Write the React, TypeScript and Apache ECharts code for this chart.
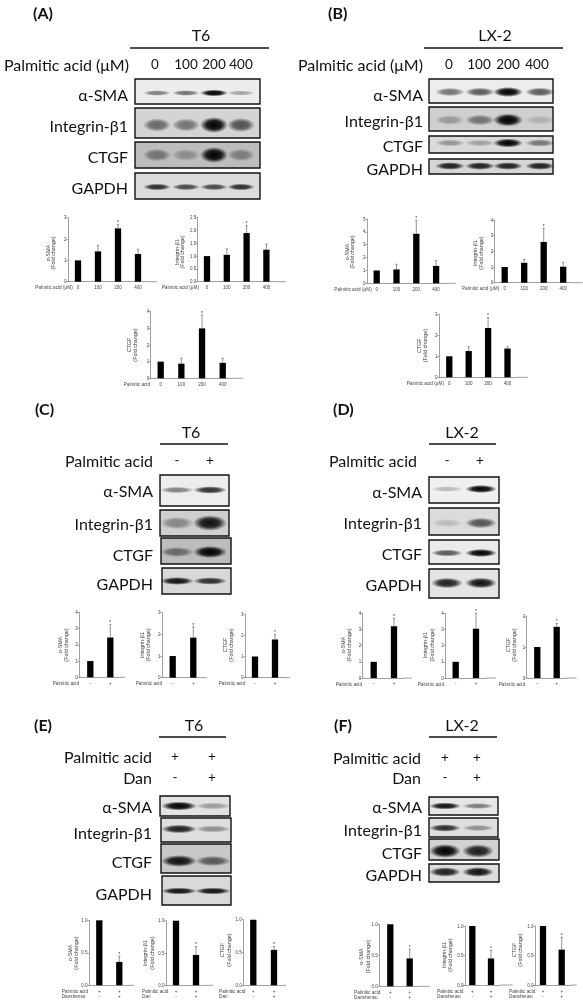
import React, { useEffect, useRef } from "react";
import * as echarts from "echarts";

// ---------- values ----------
const DOSE = ["0", "100", "200", "400"];
const PA = ["-", "+"];
const PA_DAN = ["+\n-", "+\n+"];

const A1_V = [1, 1.42, 2.5, 1.3];
const A1_E = [1, 1.69, 2.69, 1.52];
const A2_V = [1, 1.05, 1.9, 1.25];
const A2_E = [1, 1.28, 2.19, 1.47];
const A3_V = [1, 0.88, 3, 0.93];
const A3_E = [1, 1.2, 3.8, 1.2];
const B1_V = [1, 1.08, 3.85, 1.35];
const B1_E = [1, 1.48, 4.9, 1.76];
const B2_V = [1, 1.27, 2.6, 1.02];
const B2_E = [1, 1.49, 3.47, 1.3];
const B3_V = [1, 1.25, 2.35, 1.37];
const B3_E = [1, 1.46, 2.84, 1.46];
const C1_V = [1, 2.45];
const C1_E = [1, 3.26];
const C2_V = [1, 1.85];
const C2_E = [1, 2.35];
const C3_V = [1, 1.8];
const C3_E = [1, 2.04];
const D1_V = [1, 3.2];
const D1_E = [1, 3.69];
const D2_V = [1, 3.05];
const D2_E = [1, 4.0];
const D3_V = [1, 1.65];
const D3_E = [1, 1.76];
const E1_V = [1, 0.36];
const E1_E = [1, 0.45];
const E2_V = [1, 0.47];
const E2_E = [1, 0.6];
const E3_V = [1, 0.54];
const E3_E = [1, 0.59];
const F1_V = [1, 0.45];
const F1_E = [1, 0.6];
const F2_V = [1, 0.45];
const F2_E = [1, 0.59];
const F3_V = [1, 0.6];
const F3_E = [1, 0.81];

const STAR_DOSE = ["", "", "*", ""];
const STAR_TWO = ["", "*"];

// blot band darkness, per protein row and lane
const A_BLOT = [[0.55, 0.6, 1, 0.4], [0.6, 0.55, 1, 0.7], [0.5, 0.35, 1, 0.45], [0.85, 0.75, 0.75, 0.85]];
const B_BLOT = [[0.6, 0.7, 1, 0.7], [0.35, 0.55, 1, 0.2], [0.4, 0.35, 1, 0.55], [0.9, 0.9, 0.9, 0.9]];
const C_BLOT = [[0.55, 0.85], [0.45, 0.95], [0.55, 1], [0.95, 0.85]];
const D_BLOT = [[0.3, 1], [0.2, 0.7], [0.7, 1], [0.9, 0.95]];
const E_BLOT = [[1, 0.4], [0.9, 0.45], [0.95, 0.65], [0.95, 0.95]];
const F_BLOT = [[0.95, 0.55], [0.85, 0.45], [1, 0.9], [0.9, 0.95]];

const PROTEINS = ["α-SMA", "Integrin-β1", "CTGF", "GAPDH"];
const FC = "(Fold change)";

// ---------- layout of the charts ----------
type G = any;
const GRIDS: G[] = [
  { v: A1_V, e: A1_E, s: STAR_DOSE, c: DOSE, xn: "Palmitic acid (μM)", yn: "α-SMA", max: 3, step: 1, dec: 0, ax: 68, top: 217.7, bot: 281.7, x1: 78, sp: 20, xe: 157, lr: 72.7, tx: 53, lh: 5.5, ty: 253 },
  { v: A2_V, e: A2_E, s: STAR_DOSE, c: DOSE, xn: "Palmitic acid (μM)", yn: "Integrin-β1", max: 2.5, step: 0.5, dec: 1, ax: 197.7, top: 217.7, bot: 281.7, x1: 207, sp: 19.8, xe: 286, lr: 199, tx: 182, lh: 5.5, ty: 252 },
  { v: A3_V, e: A3_E, s: STAR_DOSE, c: DOSE, xn: "Palmitic acid", yn: "CTGF", max: 4, step: 1, dec: 0, ax: 150.7, top: 311.7, bot: 378.3, x1: 160.7, sp: 20.67, xe: 243.3, lr: 150, tx: 135, lh: 5.7, ty: 345 },
  { v: B1_V, e: B1_E, s: STAR_DOSE, c: DOSE, xn: "Palmitic acid (μM)", yn: "α-SMA", max: 5, step: 1, dec: 0, ax: 367, top: 219, bot: 283.3, x1: 376.7, sp: 19.8, xe: 455.7, lr: 371.7, tx: 352, lh: 5.5, ty: 252 },
  { v: B2_V, e: B2_E, s: STAR_DOSE, c: DOSE, xn: "Palmitic acid (μM)", yn: "Integrin-β1", max: 4, step: 1, dec: 0, ax: 494.7, top: 220, bot: 282.7, x1: 504.7, sp: 19.5, xe: 582.7, lr: 499.3, tx: 480.7, lh: 6, ty: 253 },
  { v: B3_V, e: B3_E, s: STAR_DOSE, c: DOSE, xn: "Palmitic acid (μM)", yn: "CTGF", max: 3, step: 1, dec: 0, ax: 439, top: 314.3, bot: 377.3, x1: 449.3, sp: 19.4, xe: 527.7, lr: 444, tx: 425, lh: 5.7, ty: 345.7 },
  { v: C1_V, e: C1_E, s: STAR_TWO, c: PA, xn: "Palmitic acid", yn: "α-SMA", max: 4, step: 1, dec: 0, ax: 79.3, top: 612.3, bot: 677.3, x1: 90.3, sp: 20, xe: 125, lr: 79, tx: 65.7, lh: 6.2, ty: 645 },
  { v: C2_V, e: C2_E, s: STAR_TWO, c: PA, xn: "Palmitic acid", yn: "Integrin-β1", max: 3, step: 1, dec: 0, ax: 162, top: 612.7, bot: 677.7, x1: 172.7, sp: 20.6, xe: 207.3, lr: 162, tx: 148.3, lh: 6.4, ty: 645 },
  { v: C3_V, e: C3_E, s: STAR_TWO, c: PA, xn: "Palmitic acid", yn: "CTGF", max: 3, step: 1, dec: 0, ax: 245, top: 614, bot: 677.7, x1: 255, sp: 20, xe: 290, lr: 245, tx: 231, lh: 6.4, ty: 645 },
  { v: D1_V, e: D1_E, s: STAR_TWO, c: PA, xn: "Palmitic acid", yn: "α-SMA", max: 4, step: 1, dec: 0, ax: 362.7, top: 613.3, bot: 678, x1: 373.7, sp: 20.3, xe: 411.7, lr: 362, tx: 349.3, lh: 6.4, ty: 645 },
  { v: D2_V, e: D2_E, s: STAR_TWO, c: PA, xn: "Palmitic acid", yn: "Integrin-β1", max: 4, step: 1, dec: 0, ax: 445.3, top: 613.3, bot: 678, x1: 455.7, sp: 20.3, xe: 496, lr: 444, tx: 431.7, lh: 6.4, ty: 645 },
  { v: D3_V, e: D3_E, s: STAR_TWO, c: PA, xn: "Palmitic acid", yn: "CTGF", max: 2, step: 1, dec: 0, ax: 526.7, top: 616, bot: 678, x1: 537.3, sp: 19.4, xe: 576.7, lr: 525, tx: 514, lh: 6.4, ty: 645 },
  { v: E1_V, e: E1_E, s: STAR_TWO, c: PA_DAN, xn: "Palmitic acid\nDanshensu", yn: "α-SMA", max: 1, step: 0.5, dec: 1, ax: 89, top: 920.3, bot: 985.3, x1: 99.3, sp: 20, xe: 134, ll: 61.7, tx: 76, lh: 6.4, ty: 953 },
  { v: E2_V, e: E2_E, s: STAR_TWO, c: PA_DAN, xn: "Palmitic acid\nDan", yn: "Integrin-β1", max: 1, step: 0.5, dec: 1, ax: 166, top: 920.7, bot: 985.3, x1: 176, sp: 20, xe: 213.3, ll: 142, tx: 152, lh: 6.6, ty: 953 },
  { v: E3_V, e: E3_E, s: STAR_TWO, c: PA_DAN, xn: "Palmitic acid\nDan", yn: "CTGF", max: 1, step: 0.5, dec: 1, ax: 243.3, top: 919.7, bot: 985.3, x1: 253.3, sp: 20.7, xe: 286, ll: 219, tx: 229, lh: 6.8, ty: 950 },
  { v: F1_V, e: F1_E, s: STAR_TWO, c: PA_DAN, xn: "Palmitic acid\nDanshensu", yn: "α-SMA", max: 1, step: 0.5, dec: 1, ax: 379.3, top: 924.3, bot: 986.3, x1: 390.3, sp: 19.4, xe: 430, ll: 354, tx: 367.7, lh: 6.4, ty: 956.7 },
  { v: F2_V, e: F2_E, s: STAR_TWO, c: PA_DAN, xn: "Palmitic acid\nDanshensu", yn: "Integrin-β1", max: 1, step: 0.5, dec: 1, ax: 465, top: 926, bot: 985, x1: 472.3, sp: 18.7, xe: 512.7, ll: 437, tx: 450, lh: 6, ty: 955, xlh: 5 },
  { v: F3_V, e: F3_E, s: STAR_TWO, c: PA_DAN, xn: "Palmitic acid\nDanshensu", yn: "CTGF", max: 1, step: 0.5, dec: 1, ax: 535, top: 926, bot: 985, x1: 543, sp: 18.7, xe: 576.7, ll: 509, tx: 520, lh: 6.4, ty: 950, xlh: 5 },
];

// ---------- layout of the blots ----------
const PANELS: any[] = [
  {
    tag: "(A)", tagX: 33, tagY: 12, cell: "T6", cellX: 201, cellY: 34, lineX: [130, 269], lineY: 48,
    head: [{ t: "Palmitic acid (μM)", r: 129, y: 64, c: DOSE, xs: [155, 186, 214, 241] }],
    dark: A_BLOT, lanes: [157, 186, 214, 241], hw: 12, labelR: 128,
    rows: [
      { x: [135, 260], y: [79, 104], by: 93, ry: 3.4, bg: "#ececec", ly: 94 },
      { x: [135, 260], y: [108, 138], by: 125, ry: 8, bg: "#d4d4d4", ly: 125 },
      { x: [135, 260], y: [142, 168], by: 155, ry: 8, bg: "#bdbdbd", ly: 156 },
      { x: [135, 260], y: [173, 199], by: 187, ry: 3.6, bg: "#dcdcdc", ly: 187 },
    ],
  },
  {
    tag: "(B)", tagX: 328, tagY: 12, cell: "LX-2", cellX: 495, cellY: 34, lineX: [424, 563], lineY: 48,
    head: [{ t: "Palmitic acid (μM)", r: 423, y: 64, c: DOSE, xs: [449, 479, 508, 537] }],
    dark: B_BLOT, lanes: [450, 480, 508, 540], hw: 13, labelR: 423,
    rows: [
      { x: [429, 553], y: [79, 103], by: 92, ry: 5, bg: "#ededed", ly: 94 },
      { x: [429, 553], y: [107, 131], by: 120, ry: 6.5, bg: "#cfcfcf", ly: 120 },
      { x: [429, 553], y: [136, 153], by: 143, ry: 4.5, bg: "#dadada", ly: 145 },
      { x: [429, 553], y: [159, 174], by: 166, ry: 4, bg: "#d6d6d6", ly: 168 },
    ],
  },
  {
    tag: "(C)", tagX: 35, tagY: 408, cell: "T6", cellX: 191, cellY: 431, lineX: [160, 228], lineY: 444,
    head: [{ t: "Palmitic acid", r: 153, y: 460, c: PA, xs: [177, 210] }],
    dark: C_BLOT, lanes: [177, 210], hw: 15, labelR: 153,
    rows: [
      { x: [160, 229], y: [475, 506], by: 490, ry: 4, bg: "#ededed", ly: 490 },
      { x: [160, 229], y: [510, 536], by: 523, ry: 8, bg: "#cfcfcf", ly: 523 },
      { x: [161, 231], y: [538, 564], by: 552, ry: 6, bg: "#bcbcbc", ly: 554 },
      { x: [162, 231], y: [568, 594], by: 581, ry: 4, bg: "#d8d8d8", ly: 583 },
    ],
  },
  {
    tag: "(D)", tagX: 333, tagY: 408, cell: "LX-2", cellX: 462, cellY: 431, lineX: [429, 496], lineY: 444,
    head: [{ t: "Palmitic acid", r: 417, y: 460, c: PA, xs: [447, 480] }],
    dark: D_BLOT, lanes: [447, 481], hw: 14, labelR: 422,
    rows: [
      { x: [429, 499], y: [477, 503], by: 489, ry: 4, bg: "#f0f0f0", ly: 491 },
      { x: [429, 499], y: [508, 535], by: 523, ry: 6, bg: "#dcdcdc", ly: 522 },
      { x: [429, 499], y: [540, 564], by: 553, ry: 4, bg: "#eaeaea", ly: 553 },
      { x: [429, 499], y: [569, 598], by: 583, ry: 5.5, bg: "#e4e4e4", ly: 584 },
    ],
  },
  {
    tag: "(E)", tagX: 34, tagY: 724, cell: "T6", cellX: 194, cellY: 724, lineX: [159, 226], lineY: 737,
    head: [
      { t: "Palmitic acid", r: 152, y: 756, c: ["+", "+"], xs: [175, 212] },
      { t: "Dan", r: 152, y: 777, c: ["-", "+"], xs: [175, 212] },
    ],
    dark: E_BLOT, lanes: [179, 213], hw: 16, labelR: 152,
    rows: [
      { x: [160, 230], y: [796, 816], by: 806, ry: 4.5, bg: "#e2e2e2", ly: 806 },
      { x: [161, 231], y: [818, 842], by: 829, ry: 4.5, bg: "#dedede", ly: 832 },
      { x: [161, 231], y: [844, 873], by: 861, ry: 6, bg: "#c8c8c8", ly: 861 },
      { x: [162, 231], y: [876, 905], by: 891, ry: 3.5, bg: "#d9d9d9", ly: 893 },
    ],
  },
  {
    tag: "(F)", tagX: 334, tagY: 724, cell: "LX-2", cellX: 462, cellY: 724, lineX: [429, 497], lineY: 737,
    head: [
      { t: "Palmitic acid", r: 421, y: 757, c: ["+", "+"], xs: [445, 477] },
      { t: "Dan", r: 421, y: 777, c: ["-", "+"], xs: [445, 477] },
    ],
    dark: F_BLOT, lanes: [445, 478], hw: 14, labelR: 422,
    rows: [
      { x: [429, 498], y: [797, 815], by: 806, ry: 3.6, bg: "#e6e6e6", ly: 806 },
      { x: [429, 498], y: [818, 837], by: 828, ry: 4, bg: "#dedede", ly: 829 },
      { x: [429, 499], y: [839, 860], by: 851, ry: 7, bg: "#d2d2d2", ly: 852 },
      { x: [429, 499], y: [864, 882], by: 872, ry: 5, bg: "#dddddd", ly: 874 },
    ],
  },
];

const SANS = "Lato";
const SMALL = "'Liberation Sans'";
const TICK_SIZE = 4.5;
const XNAME_SIZE = 4.7;
const YNAME_SIZE = 5.4;
const INK = "#444";
const AXIS = "#777";

function label(text: string, x: number, y: number, size: number, align: string, weight = "normal"): any {
  return {
    type: "text",
    silent: true,
    z: 10,
    style: {
      text, x, y, fill: "#111",
      font: `${weight} ${size}px ${SANS}`,
      align, textAlign: align, verticalAlign: "middle", textVerticalAlign: "middle",
    },
  };
}

function band(cx: number, cy: number, rx: number, ry: number, d: number): any {
  const a = Math.min(1, 0.05 + 0.95 * Math.pow(d, 1.4));
  return {
    type: "ellipse",
    silent: true,
    z: 6,
    shape: { cx, cy, rx, ry: ry * (0.6 + 0.4 * d) },
    style: {
      fill: new echarts.graphic.RadialGradient(0.5, 0.5, 0.5, [
        { offset: 0, color: `rgba(0,0,0,${a})` },
        { offset: 0.55, color: `rgba(0,0,0,${a * 0.85})` },
        { offset: 1, color: "rgba(0,0,0,0)" },
      ]),
    },
  };
}

function panelGraphics(p: any): any[] {
  const out: any[] = [
    label(p.tag, p.tagX, p.tagY, 16, "left", "bold"),
    label(p.cell, p.cellX, p.cellY, 16, "center"),
    { type: "line", silent: true, shape: { x1: p.lineX[0], y1: p.lineY, x2: p.lineX[1], y2: p.lineY }, style: { stroke: "#111", lineWidth: 1.3 } },
  ];
  p.head.forEach((h: any) => {
    out.push(label(h.t, h.r, h.y, 16, "right"));
    h.c.forEach((c: string, i: number) => out.push(label(c, h.xs[i], h.y, 13.5, "center")));
  });
  p.rows.forEach((r: any, i: number) => {
    out.push({
      type: "rect", silent: true, z: 5,
      shape: { x: r.x[0], y: r.y[0], width: r.x[1] - r.x[0], height: r.y[1] - r.y[0] },
      style: { fill: r.bg },
    });
    p.dark[i].forEach((d: number, j: number) => out.push(band(p.lanes[j], r.by, p.hw + 2, r.ry, d)));
    out.push({
      type: "rect", silent: true, z: 7,
      shape: { x: r.x[0], y: r.y[0], width: r.x[1] - r.x[0], height: r.y[1] - r.y[0] },
      style: { fill: "none", stroke: "#111", lineWidth: 1.4 },
    });
    out.push(label(PROTEINS[i], p.labelR, r.ly, 16, "right"));
  });
  return out;
}

function buildOption(): any {
  const grid: any[] = [], xAxis: any[] = [], yAxis: any[] = [], series: any[] = [], graphic: any[] = [];
  GRIDS.forEach((g, i) => {
    const left = g.x1 - g.sp / 2;
    const width = g.sp * g.c.length;
    const two = g.xn.includes("\n");
    const xlh = g.xlh || 5.7;
    grid.push({ left, top: g.top, width, height: g.bot - g.top });
    xAxis.push({
      type: "category", gridIndex: i, data: g.c,
      axisLine: { lineStyle: { color: AXIS, width: 0.7 } },
      axisTick: { show: false },
      axisLabel: { interval: 0, fontSize: TICK_SIZE, fontFamily: SMALL, color: INK, margin: 6 - xlh / 2, lineHeight: xlh, hideOverlap: false },
      name: g.xn,
      nameLocation: "start",
      nameGap: left - (two ? g.ll : g.lr),
      nameMoveOverlap: false,
      nameTextStyle: {
        fontSize: XNAME_SIZE, fontFamily: SMALL, color: INK, lineHeight: xlh,
        align: two ? "left" : "right", verticalAlign: "top", padding: [6 - xlh / 2, 0, 0, 0],
      },
    });
    const dy = g.ty - (g.top + g.bot) / 2;
    yAxis.push({
      type: "value", gridIndex: i, min: 0, max: g.max, interval: g.step,
      offset: left - g.ax,
      splitLine: { show: false },
      axisLine: { show: true, lineStyle: { color: AXIS, width: 0.7 } },
      axisTick: { show: true, length: 1.8, lineStyle: { color: AXIS, width: 0.6 } },
      axisLabel: { fontSize: TICK_SIZE, fontFamily: SMALL, color: INK, margin: 1.5, formatter: (v: number) => v.toFixed(g.dec) },
      name: `${g.yn}\n${FC}`,
      nameLocation: "middle",
      nameRotate: 90,
      nameGap: g.ax - g.tx - g.lh / 2,
      nameMoveOverlap: false,
      nameTextStyle: {
        fontSize: YNAME_SIZE, fontFamily: SMALL, color: INK, lineHeight: g.lh,
        padding: dy >= 0 ? [0, 2 * dy, 0, 0] : [0, 0, 0, -2 * dy],
      },
    });
    series.push({
      type: "bar", xAxisIndex: i, yAxisIndex: i, data: g.v, barWidth: 6.3, silent: true,
      itemStyle: { color: "#000" },
    });
    series.push({
      type: "custom", xAxisIndex: i, yAxisIndex: i, silent: true, clip: false, z: 3,
      data: g.e.map((e: number, k: number) => [k, e, g.v[k]]),
      renderItem: (_: any, api: any) => {
        const k = api.value(0);
        const top = api.coord([k, api.value(1)]);
        const base = api.coord([k, api.value(2)]);
        const kids: any[] = [];
        if (top[1] < base[1] - 0.2) {
          kids.push({ type: "line", shape: { x1: top[0], y1: top[1], x2: base[0], y2: base[1] }, style: { stroke: "#666", lineWidth: 0.7 } });
          kids.push({ type: "line", shape: { x1: top[0] - 1.1, y1: top[1], x2: top[0] + 1.1, y2: top[1] }, style: { stroke: "#666", lineWidth: 0.7 } });
        }
        if (g.s[k]) {
          kids.push({ type: "text", style: { text: g.s[k], x: top[0], y: top[1] - 2.2, fill: "#333", font: `5px ${SMALL}`, align: "center", textAlign: "center", verticalAlign: "middle", textVerticalAlign: "middle" } });
        }
        return { type: "group", children: kids };
      },
    });
    // the axis line runs on past the last bar in the original plots
    graphic.push({
      type: "line", silent: true,
      shape: { x1: left + width, y1: g.bot, x2: g.xe, y2: g.bot },
      style: { stroke: AXIS, lineWidth: 0.7 },
    });
    if (left > g.ax) {
      graphic.push({ type: "line", silent: true, shape: { x1: g.ax, y1: g.bot, x2: left, y2: g.bot }, style: { stroke: AXIS, lineWidth: 0.7 } });
    }
  });
  PANELS.forEach((p) => graphic.push(...panelGraphics(p)));
  return { animation: false, backgroundColor: "#fff", grid, xAxis, yAxis, series, graphic: { elements: graphic } };
}

export default function App() {
  const ref = useRef<HTMLDivElement>(null);
  useEffect(() => {
    const chart = echarts.init(ref.current!, null, { renderer: "svg" });
    chart.setOption(buildOption());
    return () => chart.dispose();
  }, []);
  return <div ref={ref} style={{ position: "absolute", left: 0, top: 0, width: 583, height: 1008, filter: "blur(0.3px)" }} />;
}
